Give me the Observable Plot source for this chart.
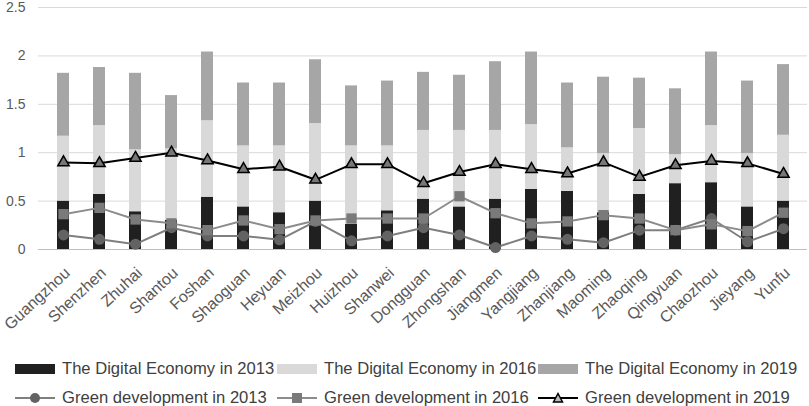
<!DOCTYPE html>
<html>
<head>
<meta charset="utf-8">
<script src="https://cdn.jsdelivr.net/npm/d3@7"></script>
<script src="https://cdn.jsdelivr.net/npm/@observablehq/plot@0.6"></script>
<style>
  html, body { margin: 0; padding: 0; background: #fff; }
  body { width: 809px; height: 406px; position: relative; overflow: hidden; font-family: "Liberation Sans", Arial, sans-serif; }
  #chart { position: absolute; left: 0; top: 0; }
  .leg { position: absolute; display: flex; align-items: center; font-size: 16.6px; color: #404040; white-space: nowrap; }
  .leg svg { margin-right: 7px; }
</style>
</head>
<body>
<div id="chart"></div>
<div id="legend"></div>
<script>
const cities = ["Guangzhou","Shenzhen","Zhuhai","Shantou","Foshan","Shaoguan","Heyuan","Meizhou","Huizhou","Shanwei","Dongguan","Zhongshan","Jiangmen","Yangjiang","Zhanjiang","Maoming","Zhaoqing","Qingyuan","Chaozhou","Jieyang","Yunfu"];
// Digital economy (stacked segments)
const de2013 = [0.50,0.57,0.39,0.30,0.54,0.44,0.38,0.50,0.26,0.40,0.52,0.44,0.52,0.62,0.60,0.38,0.57,0.68,0.69,0.44,0.50];
const de2016 = [0.67,0.71,0.64,0.74,0.79,0.63,0.69,0.80,0.81,0.67,0.71,0.79,0.71,0.67,0.45,0.61,0.68,0.30,0.59,0.55,0.68];
const de2019 = [0.65,0.60,0.79,0.55,0.71,0.65,0.65,0.66,0.62,0.67,0.60,0.57,0.71,0.75,0.67,0.79,0.52,0.68,0.76,0.75,0.73];
// Green development
const gd2013 = [0.15,0.105,0.055,0.225,0.14,0.14,0.10,0.29,0.09,0.14,0.225,0.15,0.02,0.14,0.105,0.07,0.20,0.20,0.32,0.08,0.215];
const gd2016 = [0.365,0.43,0.31,0.27,0.20,0.30,0.21,0.30,0.32,0.32,0.32,0.55,0.375,0.27,0.29,0.355,0.32,0.20,0.26,0.19,0.38];
const gd2019 = [0.90,0.89,0.945,1.0,0.92,0.83,0.855,0.72,0.88,0.88,0.685,0.80,0.88,0.83,0.785,0.90,0.75,0.87,0.915,0.89,0.78];
const yTicks = [0, 0.5, 1, 1.5, 2, 2.5];

const barSeries = ["The Digital Economy in 2013","The Digital Economy in 2016","The Digital Economy in 2019"];
const barColors = ["#202020","#d9d9d9","#a6a6a6"];
const barVals = [de2013, de2016, de2019];
const bars = [];
barSeries.forEach((s, k) => cities.forEach((c, i) => bars.push({city: c, series: s, value: barVals[k][i]})));

const lineRows = (vals) => cities.map((c, i) => ({city: c, value: vals[i]}));
const g13 = lineRows(gd2013), g16 = lineRows(gd2016), g19 = lineRows(gd2019);

const chart = Plot.plot({
  width: 809,
  height: 355,
  marginLeft: 38,
  marginRight: 2,
  marginTop: 7,
  marginBottom: 106,
  style: {fontFamily: "'Liberation Sans', Arial, sans-serif", fontSize: "14px", color: "#595959", background: "#fff"},
  x: {domain: cities, paddingInner: 0.67, paddingOuter: 0.335, label: null},
  y: {domain: [0, 2.5], label: null},
  color: {domain: barSeries, range: barColors},
  marks: [
    Plot.gridY(yTicks, {stroke: "#d9d9d9", strokeOpacity: 1, strokeWidth: 1}),
    Plot.barY(bars, {x: "city", y: "value", fill: "series"}),
    Plot.ruleY([0], {stroke: "#bfbfbf", strokeWidth: 1}),
    Plot.line(g13, {x: "city", y: "value", stroke: "#7f7f7f", strokeWidth: 2}),
    Plot.line(g16, {x: "city", y: "value", stroke: "#8c8c8c", strokeWidth: 2}),
    Plot.line(g19, {x: "city", y: "value", stroke: "#000", strokeWidth: 2}),
    Plot.dot(g13, {x: "city", y: "value", r: 5.5, fill: "#636363", stroke: "none"}),
    Plot.dot(g16, {x: "city", y: "value", symbol: "square", r: 5.8, fill: "#7a7a7a", stroke: "none"}),
    Plot.dot(g19, {x: "city", y: "value", symbol: "triangle", r: 4.2, fill: "#777", stroke: "#000", strokeWidth: 1.5}),
    Plot.axisY({ticks: yTicks, tickSize: 0, tickPadding: 13, tickFormat: d => String(d), fill: "#595959", fontSize: 14}),
    Plot.axisX({tickSize: 0, tickPadding: 21, dx: 4, tickRotate: -43, fill: "#595959", fontSize: 16})
  ]
});
document.getElementById("chart").appendChild(chart);

// Legend (HTML below the SVG)
const legend = document.getElementById("legend");
const cols = [15, 277, 538];
barSeries.forEach((s, k) => {
  const d = document.createElement("div");
  d.className = "leg";
  d.style.left = cols[k] + "px";
  d.style.top = "360px";
  d.style.height = "18px";
  d.innerHTML = `<svg width="40" height="10"><rect width="40" height="10" fill="${barColors[k]}"></rect></svg><span>${s}</span>`;
  legend.appendChild(d);
});
const lineLeg = [
  {name: "Green development in 2013", stroke: "#7f7f7f", marker: `<circle cx="20" cy="7" r="5" fill="#636363"></circle>`},
  {name: "Green development in 2016", stroke: "#8c8c8c", marker: `<rect x="15" y="2" width="10" height="10" fill="#7a7a7a"></rect>`},
  {name: "Green development in 2019", stroke: "#000", marker: `<path d="M20,2.5 L24.5,11 L15.5,11 Z" fill="#bbb" stroke="#000" stroke-width="1.5"></path>`}
];
lineLeg.forEach((l, k) => {
  const d = document.createElement("div");
  d.className = "leg";
  d.style.left = cols[k] + "px";
  d.style.top = "389px";
  d.style.height = "18px";
  d.innerHTML = `<svg width="40" height="14"><line x1="0" x2="40" y1="7" y2="7" stroke="${l.stroke}" stroke-width="2"></line>${l.marker}</svg><span>${l.name}</span>`;
  legend.appendChild(d);
});
</script>
</body>
</html>
